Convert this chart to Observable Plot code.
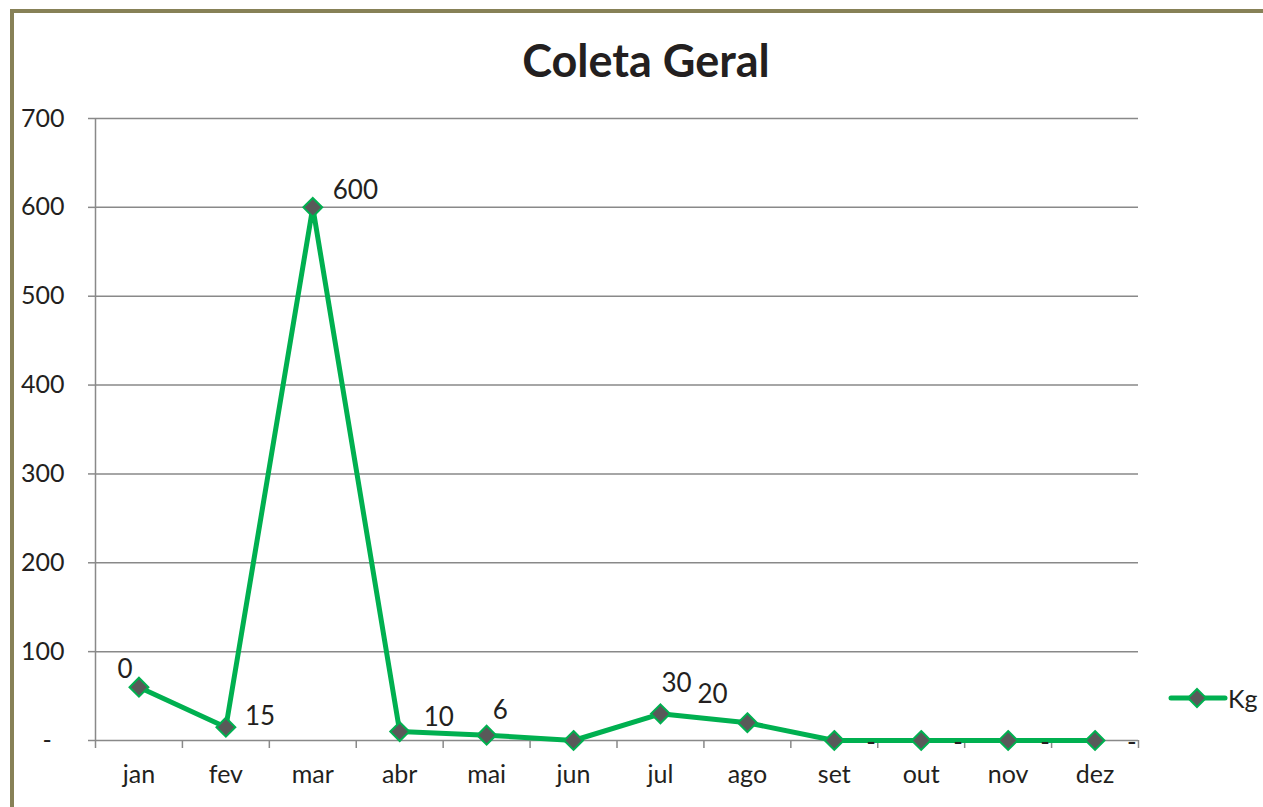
<!DOCTYPE html>
<html>
<head>
<meta charset="utf-8">
<script src="https://cdn.jsdelivr.net/npm/d3@7"></script>
<script src="https://cdn.jsdelivr.net/npm/@observablehq/plot@0.6"></script>
<style>
  html, body { margin: 0; padding: 0; background: #fff; }
  #wrap { position: relative; width: 1263px; height: 807px; overflow: hidden; font-family: Lato, "Open Sans", sans-serif; color: #231f20; }
  #frame { position: absolute; left: 10px; top: 9px; right: -10px; bottom: -10px; border-left: 4px solid #878157; border-top: 4px solid #878157; }
  #title { position: absolute; left: 0; width: 1292px; top: 36px; text-align: center; font-weight: 700; font-size: 45px; line-height: 48px; }
  #legend { position: absolute; left: 1168px; top: 683px; display: flex; align-items: center; font-size: 25px; }
  #chart { position: absolute; left: 0; top: 0; }
</style>
</head>
<body>
<div id="wrap">
  <div id="frame"></div>
  <div id="chart"></div>
  <div id="title">Coleta Geral</div>
  <div id="legend">
    <svg width="60" height="30"><line x1="3" x2="57" y1="15" y2="15" stroke="#00b050" stroke-width="5" stroke-linecap="round"/><path d="M29,6L38,15L29,24L20,15Z" fill="#595959" stroke="#00b050" stroke-width="2"/></svg>
    <span>Kg</span>
  </div>
</div>
<script>
const months = ["jan", "fev", "mar", "abr", "mai", "jun", "jul", "ago", "set", "out", "nov", "dez"];
const kg = [60, 15, 600, 10, 6, 0, 30, 20, 0, 0, 0, 0];
const labelTexts = ["0", "15", "600", "10", "6", "", "30", "20", "-", "-", "-", "-"];
const yTicks = [0, 100, 200, 300, 400, 500, 600, 700];
const seriesName = "Kg";

const data = months.map((m, i) => ({month: m, pos: i + 0.5, kg: kg[i], label: labelTexts[i]}));

const gray = "#898989";
const green = "#00b050";

function lbl(indices, anchor, dx, dy) {
  return Plot.text(data.filter((d, i) => indices.includes(i)), {
    x: "pos", y: "kg", text: "label", textAnchor: anchor, dx, dy,
    fontSize: 26, fill: "#231f20"
  });
}

const chart = Plot.plot({
  width: 1263,
  height: 807,
  marginLeft: 95,
  marginRight: 125,
  marginTop: 118,
  marginBottom: 67,
  style: {fontFamily: "Lato, 'Open Sans', sans-serif", color: "#231f20", background: "transparent", overflow: "visible"},
  x: {type: "linear", domain: [0, 12]},
  y: {domain: [0, 700]},
  marks: [
    Plot.gridY(yTicks, {stroke: gray, strokeOpacity: 1, strokeWidth: 1.5}),
    Plot.axisY(yTicks, {tickSize: 7, tickPadding: 24, stroke: gray, strokeWidth: 1.5, fontSize: 25, label: null,
      tickFormat: d => d === 0 ? "-\u00a0\u00a0" : String(d)}),
    Plot.ruleX([0], {y1: 700, y2: 0, stroke: gray, strokeWidth: 1.5, insetBottom: -8}),
    Plot.axisX(d3.range(1, 13), {tickSize: 8, stroke: gray, strokeWidth: 1.5, tickFormat: () => "", label: null}),
    Plot.axisX(months.map((m, i) => i + 0.5), {tickSize: 0, tickPadding: 25, fontSize: 25, label: null,
      tickFormat: d => months[Math.floor(d)]}),
    Plot.line(data, {x: "pos", y: "kg", stroke: green, strokeWidth: 5, strokeLinejoin: "round"}),
    Plot.dot(data, {x: "pos", y: "kg", symbol: "diamond2", r: 8.5, fill: "#595959", stroke: green, strokeWidth: 2}),
    lbl([0], "middle", -14, -18),
    lbl([1], "start", 19, -10),
    lbl([2], "start", 20, -17),
    lbl([3], "start", 24, -14),
    lbl([4], "start", 6, -24),
    lbl([6], "start", 1, -30),
    lbl([7], "start", -50, -28),
    lbl([8, 9, 10, 11], "start", 32, 2)
  ]
});
document.getElementById("chart").appendChild(chart);
</script>
</body>
</html>
